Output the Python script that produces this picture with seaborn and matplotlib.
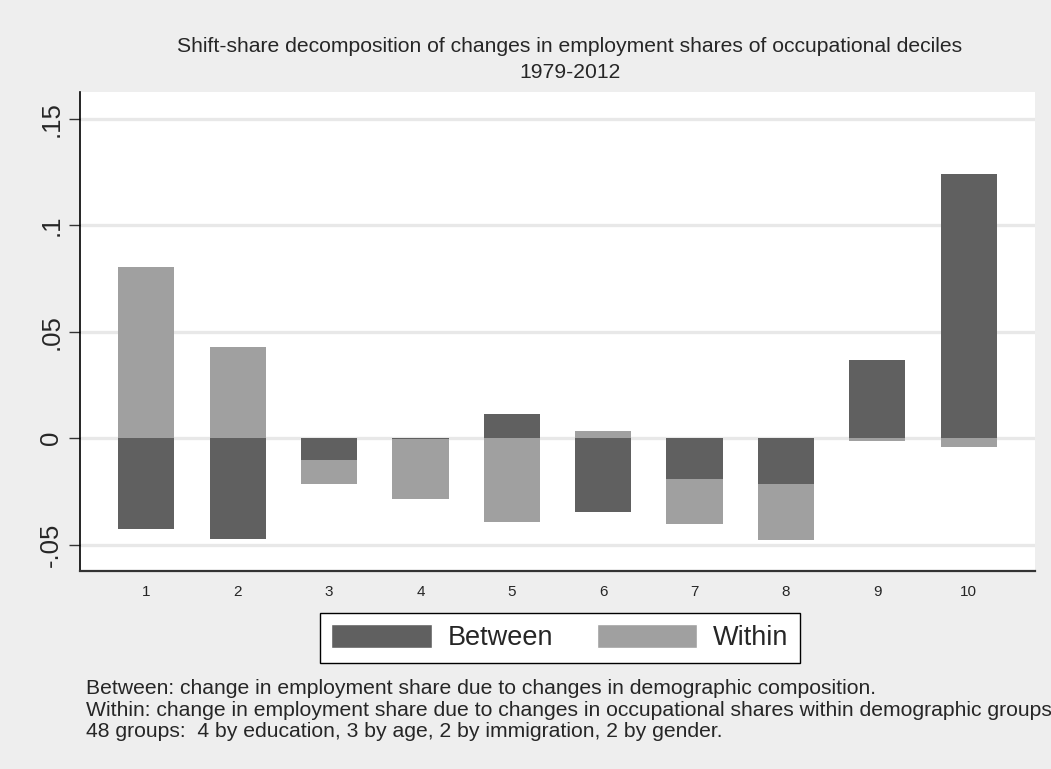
import matplotlib
matplotlib.use("Agg")
import matplotlib.pyplot as plt
import seaborn as sns
import pandas as pd
import numpy as np
from matplotlib.patches import Patch

# occupational deciles, 1979-2012
deciles = ["1", "2", "3", "4", "5", "6", "7", "8", "9", "10"]
between = [-0.0426, -0.0474, -0.0100, -0.0004, 0.0116, -0.0346, -0.0192, -0.0213, 0.0370, 0.1244]
within = [0.0805, 0.0429, -0.0114, -0.0280, -0.0393, 0.0036, -0.0209, -0.0266, -0.0013, -0.0041]

ytick_vals = [-0.05, 0, 0.05, 0.1, 0.15]
ytick_labels = ["-.05", "0", ".05", ".1", ".15"]

title1 = "Shift-share decomposition of changes in employment shares of occupational deciles"
title2 = "1979-2012"
notes = [
    "Between: change in employment share due to changes in demographic composition.",
    "Within: change in employment share due to changes in occupational shares within demographic groups.",
    "48 groups:  4 by education, 3 by age, 2 by immigration, 2 by gender.",
]

dark = "#606060"
light = "#A0A0A0"
bg = "#EEEEEE"

# within is stacked on top of between when they share a sign
b = np.array(between)
w = np.array(within)
within_end = np.where(np.sign(b) == np.sign(w), b + w, w)
df = pd.DataFrame({"decile": deciles, "between": b, "within_end": within_end})

sns.set_style("white")
plt.rcParams["font.family"] = ["Liberation Sans", "DejaVu Sans"]

fig = plt.figure(figsize=(10.51, 7.69), dpi=100, facecolor=bg)
ax = fig.add_axes([80 / 1051, 1 - 571.3 / 769, (1035 - 80) / 1051, (571.3 - 92) / 769])
ax.set_facecolor("white")

sns.barplot(data=df, x="decile", y="within_end", order=deciles, color=light,
            saturation=1, width=0.615, errorbar=None, linewidth=0, ax=ax, zorder=2)
sns.barplot(data=df, x="decile", y="between", order=deciles, color=dark,
            saturation=1, width=0.615, errorbar=None, linewidth=0, ax=ax, zorder=3)

ax.set_axisbelow(True)
ax.yaxis.grid(True, color="#E8E8E8", linewidth=2.4)
ax.xaxis.grid(False)

ax.set_xlim(-0.725, 9.725)
ax.set_ylim(-0.0625, 0.1627)
ax.set_yticks(ytick_vals)
ax.set_yticklabels(ytick_labels, rotation=90, va="center", fontsize=18.5)
ax.tick_params(axis="y", left=True, length=8, width=1, color="#333333", pad=4)
ax.tick_params(axis="x", bottom=False, length=0, labelsize=11, pad=10)
ax.set_xlabel("")
ax.set_ylabel("")

for s in ["top", "right"]:
    ax.spines[s].set_visible(False)
ax.spines["left"].set_color("black")
ax.spines["left"].set_linewidth(1.2)
ax.spines["bottom"].set_color("#333333")
ax.spines["bottom"].set_linewidth(1.6)

fig.text(570 / 1051, 1 - 47 / 769, title1, ha="center", va="center", fontsize=15.2)
fig.text(570 / 1051, 1 - 73 / 769, title2, ha="center", va="center", fontsize=15.2)

handles = [Patch(facecolor=dark, label="Between"), Patch(facecolor=light, label="Within")]
leg = fig.legend(handles=handles, loc="center", bbox_to_anchor=(560 / 1051, 1 - 637.7 / 769),
                 ncol=2, frameon=True, fancybox=False, edgecolor="black", framealpha=1,
                 fontsize=19.5, handlelength=3.7, handleheight=1.0, handletextpad=0.6,
                 columnspacing=1.6, borderpad=0.42)
leg.get_frame().set_linewidth(1.0)

for i, line in enumerate(notes):
    fig.text(85.7 / 1051, 1 - (694 + 21.5 * i) / 769, line, ha="left", va="baseline", fontsize=15.2)

fig.savefig("out.png", dpi=100, facecolor=fig.get_facecolor())
